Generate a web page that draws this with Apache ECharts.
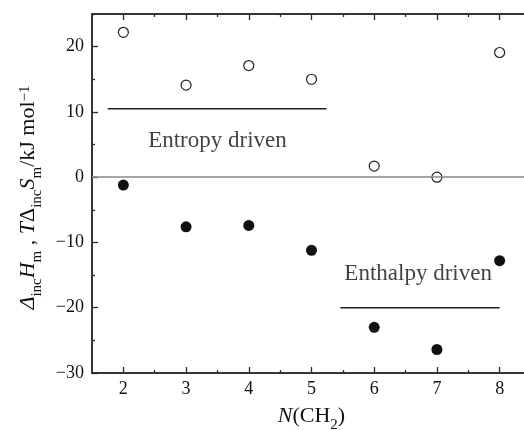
<!DOCTYPE html>
<html>
<head>
<meta charset="utf-8">
<script src="https://cdn.jsdelivr.net/npm/echarts@6/dist/echarts.min.js"></script>
<style>
html,body{margin:0;padding:0;background:#fff;}
#chart{width:524px;height:430px;}
</style>
</head>
<body>
<div id="chart"></div>
<script>
// ---- data ----
const nCH2 = [2, 3, 4, 5, 6, 7, 8];
const entropyTerm = [22.2, 14.1, 17.1, 15.0, 1.7, 0.0, 19.1];      // TΔS (open circles)
const enthalpyTerm = [-1.2, -7.6, -7.4, -11.2, -23.0, -26.4, -12.8]; // ΔH (filled circles)
const entropyLine = [[1.75, 10.5], [5.24, 10.5]];
const enthalpyLine = [[5.46, -20], [8.0, -20]];
const annotations = ['Entropy driven', 'Enthalpy driven'];
const annotationAt = [[3.5, 5.6], [6.7, -14.9]];
const xTickLabels = [2, 3, 4, 5, 6, 7, 8];
const xMinorTicks = [2.5, 3.5, 4.5, 5.5, 6.5, 7.5];
const yTickLabels = [-30, -20, -10, 0, 10, 20];
const yMinorTicks = [-25, -15, -5, 5, 15, 25];

const FONT = 'Liberation Serif';
const AX = '#2a2a2a';
const TXT = '#111';

function xAxis(pos, ticks, len, labels, extra) {
  return Object.assign({
    type: 'value', position: pos, min: 1.5, max: 8.5,
    axisLine: { show: true, onZero: false, lineStyle: { color: AX, width: 1.5 } },
    axisTick: { show: true, inside: true, length: len, customValues: ticks, lineStyle: { color: AX, width: 1.3 } },
    axisLabel: labels ? { show: true, customValues: ticks, margin: 7, color: TXT, fontFamily: FONT, fontSize: 18 } : { show: false },
    splitLine: { show: false }
  }, extra || {});
}
function yAxis(pos, ticks, len, labels, extra) {
  return Object.assign({
    type: 'value', position: pos, min: -30, max: 25,
    axisLine: { show: true, onZero: false, lineStyle: { color: AX, width: 1.5 } },
    axisTick: { show: true, inside: true, length: len, customValues: ticks, lineStyle: { color: AX, width: 1.3 } },
    axisLabel: labels ? { show: true, customValues: ticks, margin: 8, color: TXT, fontFamily: FONT, fontSize: 18,
      formatter: v => (v < 0 ? '\u2212' + Math.abs(v) : String(v)) } : { show: false },
    splitLine: { show: false }
  }, extra || {});
}

const mainStyle = { fontFamily: FONT, fontSize: 22, color: TXT, lineHeight: 26, verticalAlign: 'top' };
const richY = {
  n: mainStyle,
  i: Object.assign({}, mainStyle, { fontStyle: 'italic' }),
  sub: { fontFamily: FONT, fontSize: 15, color: TXT, lineHeight: 40, verticalAlign: 'middle' },
  sup: { fontFamily: FONT, fontSize: 15, color: TXT, lineHeight: 12, verticalAlign: 'top' }
};

const chart = echarts.init(document.getElementById('chart'), null, { renderer: 'canvas' });
chart.setOption({
  animation: false,
  backgroundColor: '#fff',
  grid: { left: 92, right: -7, top: 14, bottom: 57, containLabel: false, outerBoundsMode: 'none' },
  xAxis: [
    xAxis('bottom', xTickLabels, 6, true, {
      name: '{i|N}{n|(CH}{sub|2}{n|)}', nameLocation: 'middle', nameGap: 32,
      nameTextStyle: { rich: richY }
    }),
    xAxis('bottom', xMinorTicks, 3, false),
    xAxis('top', xTickLabels, 6, false),
    xAxis('top', xMinorTicks, 3, false)
  ],
  yAxis: [
    yAxis('left', yTickLabels, 6, true, {
      name: '{i|\u0394}{sub|inc}{i|H}{sub|m}{n| , }{i|T}{n|\u0394}{sub|inc}{i|S}{sub|m}{n|/kJ mol}{sup|\u22121}',
      nameLocation: 'middle', nameRotate: 90, nameGap: 33,
      nameTextStyle: { rich: richY, padding: [0, 8, 0, 0] }
    }),
    yAxis('left', yMinorTicks, 3, false),
    yAxis('right', yTickLabels, 6, false)
  ],
  series: [
    {
      type: 'line', data: entropyLine, symbol: 'none', silent: true,
      lineStyle: { color: '#222', width: 1.5 },
      markLine: {
        silent: true, symbol: 'none', label: { show: false },
        lineStyle: { color: '#888', width: 1.5, type: 'solid' },
        data: [{ yAxis: 0 }]
      }
    },
    { type: 'line', data: enthalpyLine, symbol: 'none', silent: true, lineStyle: { color: '#222', width: 1.5 } },
    {
      type: 'scatter', symbol: 'circle', symbolSize: 10,
      data: nCH2.map((n, i) => [n, entropyTerm[i]]),
      itemStyle: { color: '#fff', borderColor: '#222', borderWidth: 1.2, opacity: 1 }
    },
    {
      type: 'scatter', symbol: 'circle', symbolSize: 11,
      data: nCH2.map((n, i) => [n, enthalpyTerm[i]]),
      itemStyle: { color: '#111', opacity: 1 }
    },
    {
      type: 'scatter', symbolSize: 0, silent: true,
      data: annotationAt.map((p, i) => ({ value: p, name: annotations[i] })),
      label: { show: true, position: 'inside', formatter: p => p.name, color: TXT, fontFamily: FONT, fontSize: 23 }
    }
  ]
});
</script>
</body>
</html>
